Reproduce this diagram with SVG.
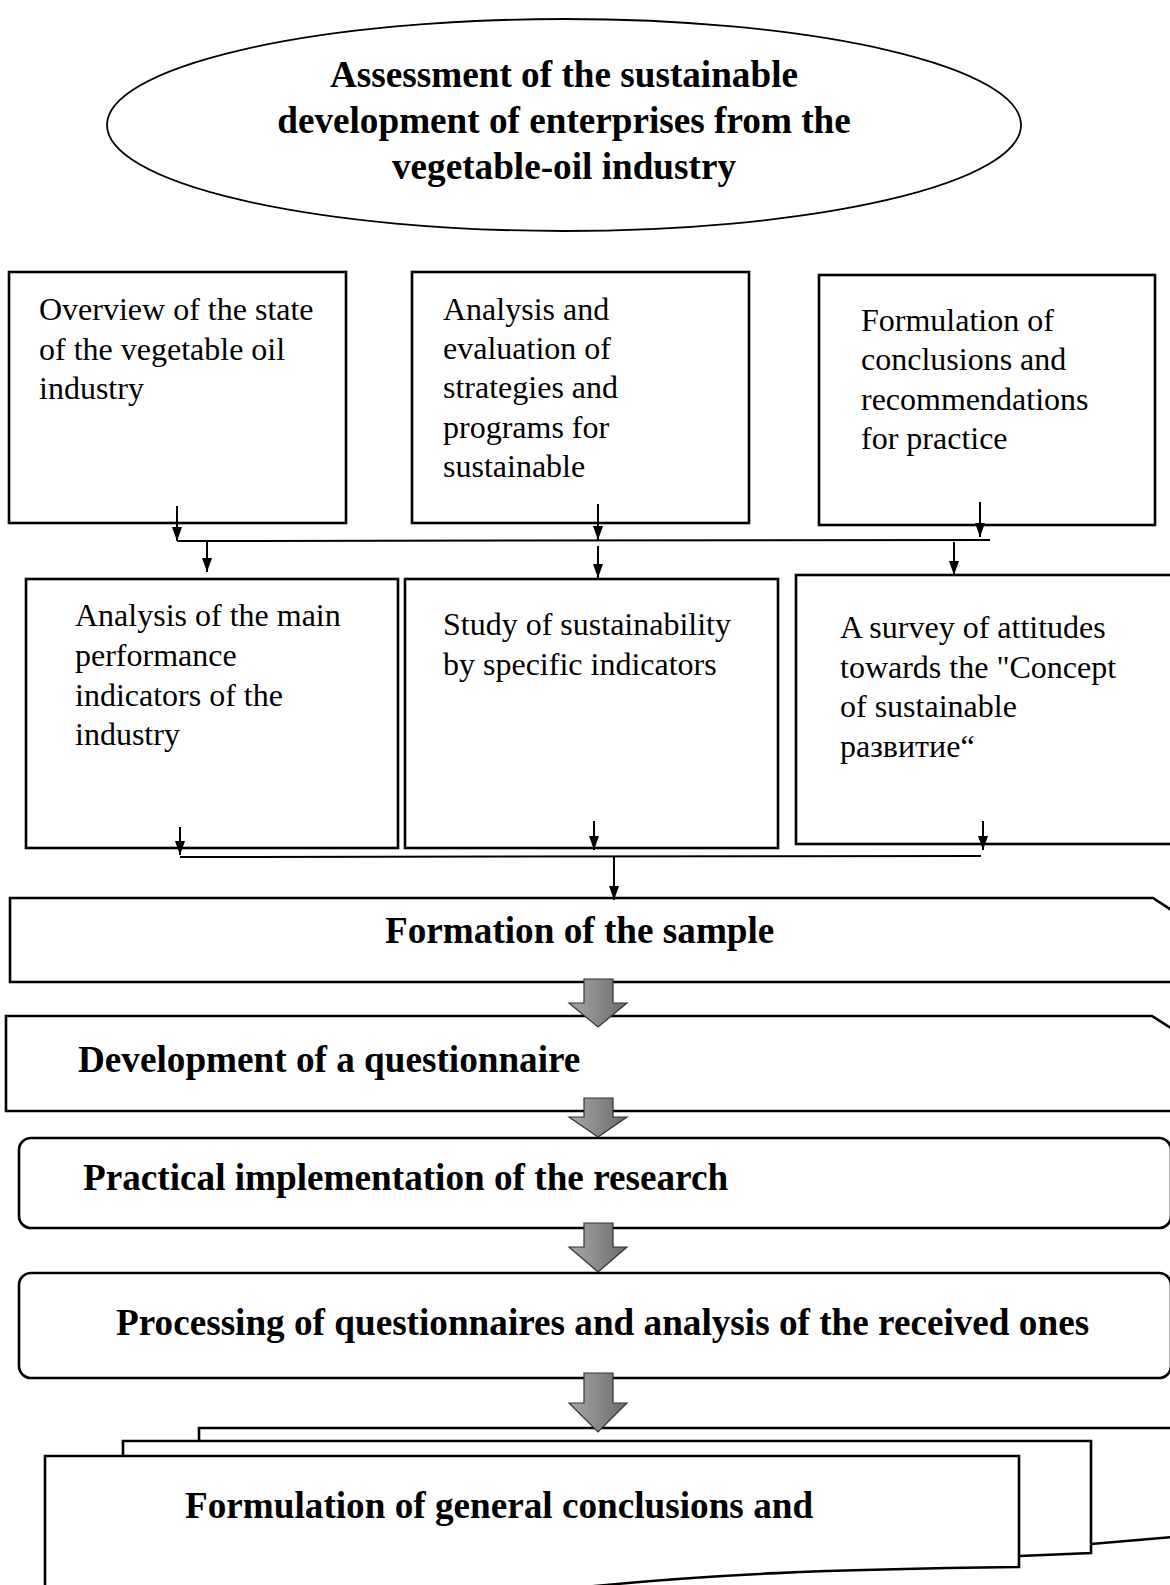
<svg xmlns="http://www.w3.org/2000/svg" width="1170" height="1585" viewBox="0 0 1170 1585">
<style>
.box{fill:#fff;stroke:#000;stroke-width:2.6}
.ell{fill:#fff;stroke:#000;stroke-width:1.8}
.t{font-family:'Liberation Serif','Times New Roman',serif;font-size:32px;fill:#000}
.b{font-family:'Liberation Serif','Times New Roman',serif;font-size:37.2px;font-weight:bold;fill:#000}
.ln{fill:none;stroke:#000;stroke-width:2}
.ga{fill:url(#gg);stroke:#333;stroke-width:1.2}
</style>
<defs>
<marker id="ah" viewBox="0 0 14 10" refX="14" refY="5" markerWidth="14" markerHeight="10" markerUnits="userSpaceOnUse" orient="auto">
<path d="M0,0 L14,5 L0,10 Z" fill="#000"/>
</marker>
<linearGradient id="gg" x1="0" y1="0" x2="1" y2="0">
<stop offset="0" stop-color="#a8a8a8"/>
<stop offset="1" stop-color="#6a6a6a"/>
</linearGradient>
</defs>
<rect width="1170" height="1585" fill="#fff"/>

<g id="title">
<ellipse class="ell" cx="564" cy="125" rx="457" ry="106"/>
<text class="b" x="564" y="87" text-anchor="middle">Assessment of the sustainable</text>
<text class="b" x="564" y="133" text-anchor="middle">development of enterprises from the</text>
<text class="b" x="564" y="179" text-anchor="middle">vegetable-oil industry</text>
</g>

<g id="box1">
<rect class="box" x="9" y="272" width="337" height="251"/>
<text class="t" x="39" y="320">Overview of the state</text>
<text class="t" x="39" y="359.5">of the vegetable oil</text>
<text class="t" x="39" y="399">industry</text>
</g>
<g id="box2">
<rect class="box" x="412" y="272" width="337" height="251"/>
<text class="t" x="443" y="320">Analysis and</text>
<text class="t" x="443" y="359">evaluation of</text>
<text class="t" x="443" y="398">strategies and</text>
<text class="t" x="443" y="438">programs for</text>
<text class="t" x="443" y="477">sustainable</text>
</g>
<g id="box3">
<rect class="box" x="819" y="275" width="336" height="250"/>
<text class="t" x="861" y="331">Formulation of</text>
<text class="t" x="861" y="370">conclusions and</text>
<text class="t" x="861" y="410">recommendations</text>
<text class="t" x="861" y="449">for practice</text>
</g>

<g id="box4">
<rect class="box" x="26" y="579" width="372" height="269"/>
<text class="t" x="75" y="626">Analysis of the main</text>
<text class="t" x="75" y="666">performance</text>
<text class="t" x="75" y="706">indicators of the</text>
<text class="t" x="75" y="745">industry</text>
</g>
<g id="box5">
<rect class="box" x="405" y="579" width="373" height="269"/>
<text class="t" x="443" y="635">Study of sustainability</text>
<text class="t" x="443" y="675">by specific indicators</text>
</g>
<g id="box6">
<rect class="box" x="796" y="575" width="380" height="269"/>
<text class="t" x="840" y="638">A survey of attitudes</text>
<text class="t" x="840" y="678">towards the "Concept</text>
<text class="t" x="840" y="717">of sustainable</text>
<text class="t" x="840" y="757">развитие“</text>
</g>

<g id="stage1">
<path class="box" d="M10,898 H1153 L1185,919 V982 H10 Z"/>
<text class="b" x="385" y="943">Formation of the sample</text>
</g>
<g id="stage2">
<path class="box" d="M6,1016 H1152 L1185,1037 V1111 H6 Z"/>
<text class="b" x="78" y="1072">Development of a questionnaire</text>
</g>
<g id="stage3">
<rect class="box" x="19" y="1138" width="1152" height="90" rx="12"/>
<text class="b" x="83" y="1190">Practical implementation of the research</text>
</g>
<g id="stage4">
<rect class="box" x="19" y="1273" width="1152" height="105" rx="12"/>
<text class="b" x="116" y="1335">Processing of questionnaires and analysis of the received ones</text>
</g>

<g id="conclusions">
<path class="box" d="M199,1428 H1185 V1536 L1091,1544 L199,1560 Z"/>
<path class="box" d="M123,1441 H1091 V1553 L1019,1556 L123,1575 Z"/>
<path class="box" d="M45,1456 H1019 V1567 C850,1569 700,1573 540,1592 L45,1592 Z"/>
<text class="b" x="185" y="1518">Formulation of general conclusions and</text>
</g>

<g id="connectors">
<line class="ln" x1="177" y1="506" x2="177" y2="541" marker-end="url(#ah)"/>
<line class="ln" x1="598" y1="504" x2="598" y2="540" marker-end="url(#ah)"/>
<line class="ln" x1="980" y1="502" x2="980" y2="537" marker-end="url(#ah)"/>
<line class="ln" x1="177" y1="541" x2="990" y2="540"/>
<line class="ln" x1="207" y1="541" x2="207" y2="572" marker-end="url(#ah)"/>
<line class="ln" x1="598" y1="546" x2="598" y2="578" marker-end="url(#ah)"/>
<line class="ln" x1="954" y1="542" x2="954" y2="575" marker-end="url(#ah)"/>

<line class="ln" x1="180" y1="827" x2="180" y2="855" marker-end="url(#ah)"/>
<line class="ln" x1="594" y1="821" x2="594" y2="850" marker-end="url(#ah)"/>
<line class="ln" x1="983" y1="821" x2="983" y2="850" marker-end="url(#ah)"/>
<line class="ln" x1="180" y1="857" x2="981" y2="856"/>
<line class="ln" x1="614" y1="857" x2="614" y2="900" marker-end="url(#ah)"/>

<path class="ga" d="M584,979 H613 V1003 H627 L598,1027 L569,1003 H584 Z"/>
<path class="ga" d="M584,1098 H613 V1117 H627 L598,1137 L569,1117 H584 Z"/>
<path class="ga" d="M584,1223 H613 V1247 H627 L598,1272 L569,1247 H584 Z"/>
<path class="ga" d="M584,1373 H613 V1403 H627 L598,1432 L569,1403 H584 Z"/>
</g>
</svg>
